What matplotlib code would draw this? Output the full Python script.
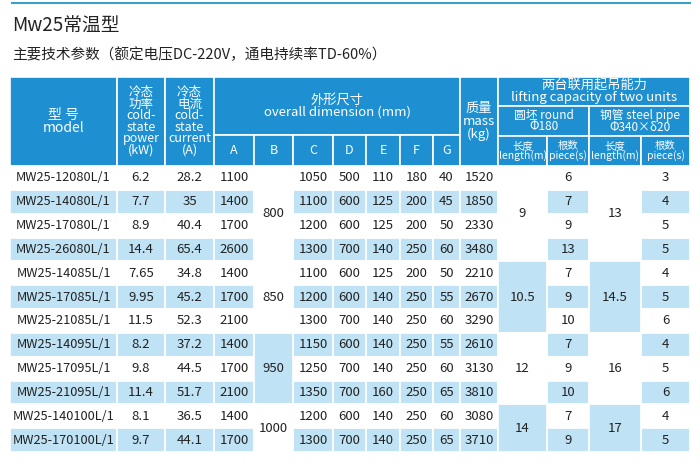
import matplotlib
matplotlib.use("Agg")
import matplotlib.pyplot as plt
from matplotlib.patches import Rectangle

plt.rcParams['font.family'] = ['Noto Sans CJK SC', 'DejaVu Sans']

title = "Mw25常温型"
subtitle = "主要技术参数（额定电压DC-220V，通电持续率TD-60%）"
models = ["MW25-12080L/1","MW25-14080L/1","MW25-17080L/1","MW25-26080L/1",
          "MW25-14085L/1","MW25-17085L/1","MW25-21085L/1",
          "MW25-14095L/1","MW25-17095L/1","MW25-21095L/1",
          "MW25-140100L/1","MW25-170100L/1"]
power = ["6.2","7.7","8.9","14.4","7.65","9.95","11.5","8.2","9.8","11.4","8.1","9.7"]
current = ["28.2","35","40.4","65.4","34.8","45.2","52.3","37.2","44.5","51.7","36.5","44.1"]
dimA = [1100,1400,1700,2600,1400,1700,2100,1400,1700,2100,1400,1700]
dimC = [1050,1100,1200,1300,1100,1200,1300,1150,1250,1350,1200,1300]
dimD = [500,600,600,700,600,600,700,600,700,700,600,700]
dimE = [110,125,125,140,125,140,140,140,140,160,140,140]
dimF = [180,200,200,250,200,250,250,250,250,250,250,250]
dimG = [40,45,50,60,50,55,60,55,60,65,60,65]
mass = [1520,1850,2330,3480,2210,2670,3290,2610,3130,3810,3080,3710]
round_pieces = [6,7,9,13,7,9,10,7,9,10,7,9]
steel_pieces = [3,4,5,5,4,5,6,4,5,6,4,5]
groups = [4,3,3,2]
dimB = ["800","850","950","1000"]
round_len = ["9","10.5","12","14"]
steel_len = ["13","14.5","16","17"]

W, H = 700, 463
fig = plt.figure(figsize=(7, 4.63), dpi=100)
ax = fig.add_axes([0, 0, 1, 1])
ax.set_xlim(0, W); ax.set_ylim(H, 0); ax.axis('off')

HB = "#1e90d2"; LB = "#bfe2f5"; WHITE = "white"
ax.plot([12, 690], [3, 3], color="#3aa0c8", lw=1.5)
ax.text(12, 26, title, fontsize=13.5, va='center', color="#222")
ax.text(12, 55, subtitle, fontsize=10.5, va='center', color="#222")

xs = [10, 117, 165, 214, 254, 293, 333, 366, 400, 433, 460, 498, 547, 589, 641, 690]
top, hsplit, hbot = 77, 135, 166
rh = (452 - hbot) / 12.0

def cell(x0, x1, y0, y1, fc, txt="", tc="#222", fs=9.5, ls=0.95):
    ax.add_patch(Rectangle((x0, y0), x1 - x0, y1 - y0, fc=fc, ec="white", lw=1.2))
    if txt:
        ax.text((x0 + x1) / 2, (y0 + y1) / 2, txt, ha='center', va='center',
                fontsize=fs, color=tc, linespacing=ls)

hw = dict(tc="white", fs=9)
cell(xs[0], xs[1], top, hbot, HB, "型 号\nmodel", tc="white", fs=10)
cell(xs[1], xs[2], top, hbot, HB, "冷态\n功率\ncold-\nstate\npower\n(kW)", tc="white", fs=9, ls=0.85)
cell(xs[2], xs[3], top, hbot, HB, "冷态\n电流\ncold-\nstate\ncurrent\n(A)", tc="white", fs=9, ls=0.85)
cell(xs[3], xs[10], top, hsplit, HB, "外形尺寸\noverall dimension (mm)", tc="white", fs=9.5)
for i, l in enumerate("ABCDEFG"):
    cell(xs[3 + i], xs[4 + i], hsplit, hbot, HB, l, **hw)
cell(xs[10], xs[11], top, hbot, HB, "质量\nmass\n(kg)", tc="white", fs=9.5)
cell(xs[11], xs[15], top, 106, HB, "两台联用起吊能力\nlifting capacity of two units", tc="white", fs=9.5, ls=0.9)
cell(xs[11], xs[13], 106, 136, HB, "圆坯 round\nΦ180", tc="white", fs=8.5, ls=0.9)
cell(xs[13], xs[15], 106, 136, HB, "钢管 steel pipe\nΦ340×δ20", tc="white", fs=8.5, ls=0.9)
for i, l in enumerate(["长度\nlength(m)", "根数\npiece(s)", "长度\nlength(m)", "根数\npiece(s)"]):
    cell(xs[11 + i], xs[12 + i], 136, hbot, HB, l, tc="white", fs=7.5, ls=0.9)

for r in range(12):
    y0 = hbot + r * rh; y1 = y0 + rh
    fc = WHITE if r % 2 == 0 else LB
    vals = {0: models[r], 1: power[r], 2: current[r], 3: str(dimA[r]), 5: str(dimC[r]),
            6: str(dimD[r]), 7: str(dimE[r]), 8: str(dimF[r]), 9: str(dimG[r]),
            10: str(mass[r]), 12: str(round_pieces[r]), 14: str(steel_pieces[r])}
    for c, t in vals.items():
        cell(xs[c], xs[c + 1], y0, y1, fc, t, fs=9.5 if c else 9.2)

start = 0
bcols = [WHITE, WHITE, LB, WHITE]
lcols = [WHITE, LB, WHITE, LB]
for g, n in enumerate(groups):
    y0 = hbot + start * rh; y1 = y0 + n * rh
    cell(xs[4], xs[5], y0, y1, bcols[g], dimB[g])
    cell(xs[11], xs[12], y0, y1, lcols[g], round_len[g])
    cell(xs[13], xs[14], y0, y1, lcols[g], steel_len[g])
    start += n

fig.savefig("out.png", dpi=100)
